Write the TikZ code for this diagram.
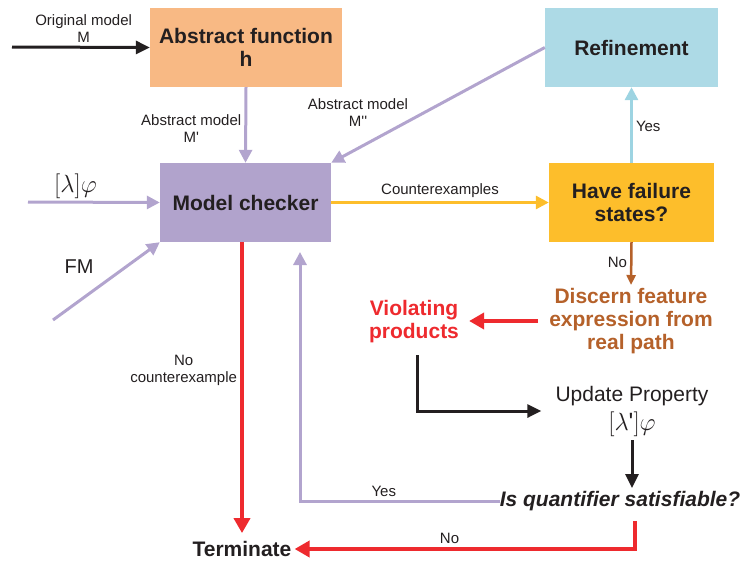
\documentclass[tikz,border=0pt]{standalone}
\usepackage{fontspec}
\setmainfont{Liberation Sans}
\usepackage{tikz}
\usetikzlibrary{arrows.meta}
\usetikzlibrary{positioning}
\usetikzlibrary{calc}
\definecolor{boxorange}{HTML}{F8B984}
\definecolor{boxblue}{HTML}{ADDAE6}
\definecolor{boxpurple}{HTML}{B1A3CC}
\definecolor{boxyellow}{HTML}{FDBE2B}
\definecolor{linepurple}{HTML}{B2A4CE}
\definecolor{lineblue}{HTML}{9DD4E2}
\definecolor{linered}{HTML}{EE2A2E}
\definecolor{linebrown}{HTML}{B5612A}
\definecolor{textdark}{HTML}{231F20}
\newcommand{\boxfont}{\fontsize{21}{23}\selectfont}
\newcommand{\lblfont}{\fontsize{15}{17}\selectfont}
\tikzset{
    block/.style={rectangle, inner sep=2pt, align=center, text=textdark,
        font=\boxfont\bfseries},
    bigtext/.style={inner sep=0pt, align=center, text=textdark, font=\boxfont},
    lbl/.style={inner sep=3pt, align=center, text=textdark, font=\lblfont},
    purplearrow/.style={draw=linepurple, line width=3pt, -{Triangle[length=13pt,width=13pt]}},
    purpleline/.style={draw=linepurple, line width=3pt},
    orangearrow/.style={draw=boxyellow, line width=3pt, -{Triangle[length=13pt,width=13pt]}},
    bluearrow/.style={draw=lineblue, line width=3pt, -{Triangle[length=13pt,width=13pt]}},
    brownarrow/.style={draw=linebrown, line width=2.5pt, -{Triangle[length=10pt,width=9pt]}},
    redarrow/.style={draw=linered, line width=4pt, -{Triangle[length=15pt,width=16pt]}},
    blackarrow/.style={draw=textdark, line width=3pt, -{Triangle[length=14pt,width=13pt]}},
}

\begin{document}
\begin{tikzpicture}[x=1pt, y=-1pt]
	\useasboundingbox (0,0) rectangle (750,560);
	% boxes
	\node[block, fill=boxorange, minimum width=192pt, minimum height=79pt] (absfun) at (246,47.5) {Abstract function\\h};
	\node[block, fill=boxblue, minimum width=173pt, minimum height=79pt] (refine) at (631.5,47.5) {Refinement};
	\node[block, fill=boxpurple, minimum width=171pt, minimum height=79pt] (checker) at (245.5,202.5) {Model checker};
	\node[block, fill=boxyellow, minimum width=165pt, minimum height=79pt] (failure) at (631.5,202.5) {Have failure\\states?};
	% texts without boxes
	\node[bigtext, font=\boxfont\bfseries, text=linebrown] (discern) at (631,321) {Discern feature\\expression from\\real path};
	\node[bigtext, font=\boxfont\bfseries, text=linered] (violate) at (414,322) {Violating\\products};
	\node[bigtext] (update) at (632,411) {Update Property\\[6pt]\fontsize{25}{25}\selectfont$[\lambda\mbox{\textquotesingle}]\varphi$};
	\node[bigtext, font=\boxfont\bfseries\itshape] (quant) at (620,501) {Is quantifier satisfiable?};
	\node[bigtext, font=\boxfont\bfseries] (term) at (242,549) {Terminate};
	\node[lbl, font=\fontsize{20}{22}\selectfont] (fmlbl) at (79,267) {FM};
	\node[lbl] (mlbl) at (358,113) {Abstract model\\M\textquotesingle\textquotesingle};
	% free ends
	\coordinate (origin) at (12,47);
	\coordinate (formula) at (28,202);
	\coordinate (fm) at (53,320);
	\coordinate (back) at (300,252);
	% connectors
	\draw[blackarrow] (origin) -- node[lbl, above, pos=0.52] (olbl) {Original model\\M} (absfun.west);
	\draw[purplearrow] (absfun.south) -- node[lbl, left, pos=0.55] (albl) {Abstract model\\M\textquotesingle} (checker.north);
	\draw[purplearrow] (refine.west) -- (checker.north east);
	\draw[purplearrow] (formula) -- node[lbl, above, pos=0.36, font=\fontsize{24}{24}\selectfont, inner sep=2pt] (flbl) {$[\lambda]\varphi$} (checker.west);
	\draw[purplearrow] (fm) -- (checker.south west);
	\draw[orangearrow] (checker.east) -- node[lbl, above] (clbl) {Counterexamples} (failure.west);
	\draw[bluearrow] (failure.north) -- node[lbl, right, pos=0.48] (ylbl) {Yes} (refine.south);
	\draw[brownarrow, shorten >=3pt] (failure.south) -- node[lbl, left, pos=0.45] (nlbl) {No} (discern.north);
	\draw[redarrow, shorten <=11pt, shorten >=10pt] (discern.west) -- (discern.west -| violate.east);
	\draw[blackarrow, shorten <=12pt, shorten >=14pt] ([xshift=3pt]violate.south) |- (update.west);
	\draw[blackarrow, shorten <=4pt, shorten >=3pt] (update.south) -- (update.south |- quant.north);
	\draw[purplearrow] (quant.west) -| node[lbl, above, pos=0.29] (yblbl) {Yes} (back);
	\draw[redarrow, shorten >=8pt] (term.north |- checker.south) -- node[lbl, left, pos=0.43] (nclbl) {No\\counterexample} (term.north);
	\draw[redarrow, shorten <=10pt, shorten >=3pt] ([xshift=15pt]quant.south) |- node[lbl, above, pos=0.77] (nblbl) {No} (term.east);
\end{tikzpicture}
\end{document}
